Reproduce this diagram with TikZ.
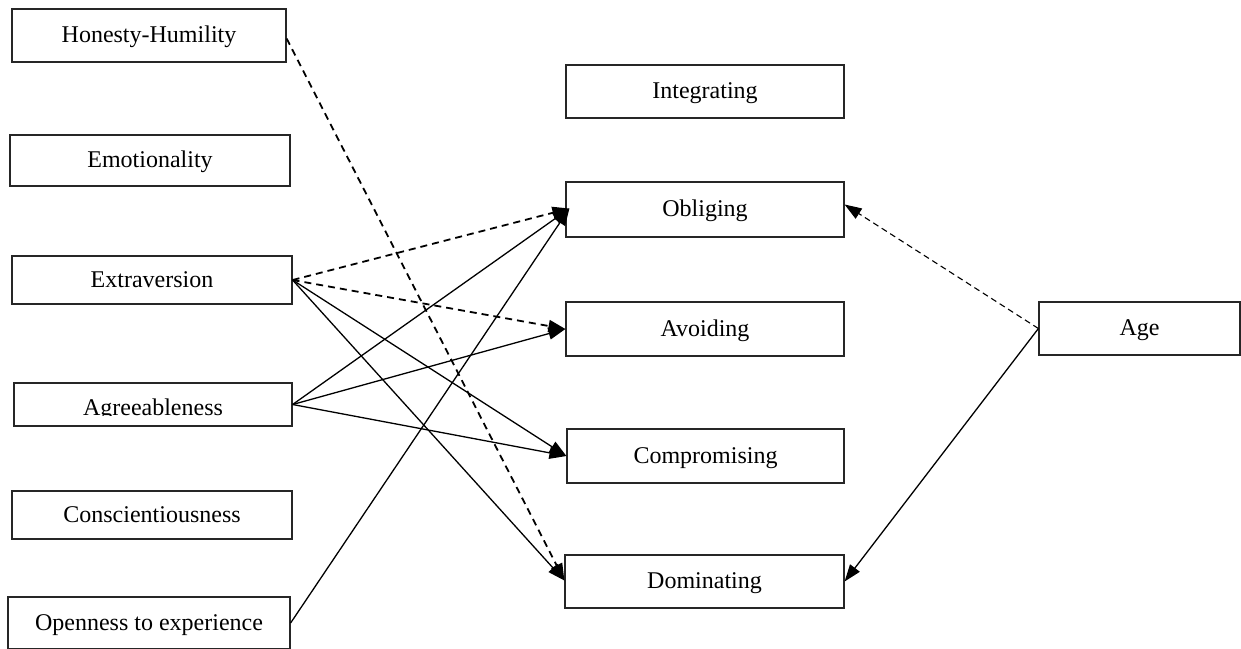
\documentclass[tikz,border=0pt]{standalone}
\usepackage{fontspec}
\setmainfont{Liberation Serif}
\usetikzlibrary{arrows.meta}
\begin{document}
\begin{tikzpicture}[x=1pt,y=-1pt,
  box/.style={draw=black!85, line width=1.2pt, inner sep=0pt,
    font=\fontsize{24}{28}\selectfont, text height=20pt, text depth=6pt},
  arr/.style={line width=1.3pt, -{Triangle[length=17pt,width=12pt]}},
  dsh/.style={arr, line width=1.8pt, dash pattern=on 7pt off 5pt},
  thindsh/.style={arr, line width=1.1pt, dash pattern=on 6pt off 4pt}]
\useasboundingbox (0,0) rectangle (1241,648);
% left column
\node[box, minimum width=274pt, minimum height=53pt] (hh) at (149,35.5) {Honesty-Humility};
\node[box, minimum width=280pt, minimum height=51pt] (em) at (150,160.5) {Emotionality};
\node[box, minimum width=280pt, minimum height=48pt] (ex) at (152,280) {Extraversion};
\node[box, minimum width=278pt, minimum height=43pt] (ag) at (153,404.5) {};
\begin{scope}
  \clip (ag.north west) rectangle ([yshift=11pt]ag.south east);
  \node[font=\fontsize{24}{28}\selectfont, anchor=base, inner sep=0pt] (agt) at (153,415) {Agreeableness};
\end{scope}
\node[box, minimum width=280pt, minimum height=48pt] (co) at (152,515) {Conscientiousness};
\node[box, minimum width=282pt, minimum height=52pt] (op) at (149,623) {Openness to experience};
% middle column
\node[box, minimum width=278pt, minimum height=53pt] (in) at (705,91.5) {Integrating};
\node[box, minimum width=278pt, minimum height=55pt] (ob) at (705,209.5) {Obliging};
\node[box, minimum width=278pt, minimum height=54pt] (av) at (705,329) {Avoiding};
\node[box, minimum width=277pt, minimum height=54pt] (cm) at (705.5,456) {Compromising};
\node[box, minimum width=279pt, minimum height=53pt] (do) at (704.5,581.5) {Dominating};
% right
\node[box, minimum width=201pt, minimum height=53pt] (age) at (1139.5,328.5) {Age};
% connectors
\draw[dsh] ([yshift=-3pt]hh.east) -- ([yshift=1pt]do.west);
\draw[dsh] (ex.east) -- ([xshift=4pt,yshift=1pt]ob.west);
\draw[dsh] (ex.east) -- (av.west);
\draw[arr] (ex.east) -- (cm.west);
\draw[arr] (ex.east) -- ([yshift=1pt]do.west);
\draw[arr] (ag.east) -- ([xshift=4pt,yshift=1pt]ob.west);
\draw[arr] (ag.east) -- (av.west);
\draw[arr] (ag.east) -- (cm.west);
\draw[arr] (op.east) -- ([xshift=4pt,yshift=1pt]ob.west);
\draw[thindsh] (age.west) -- ([yshift=5pt]ob.east);
\draw[arr] (age.west) -- (do.east);
\end{tikzpicture}
\end{document}
